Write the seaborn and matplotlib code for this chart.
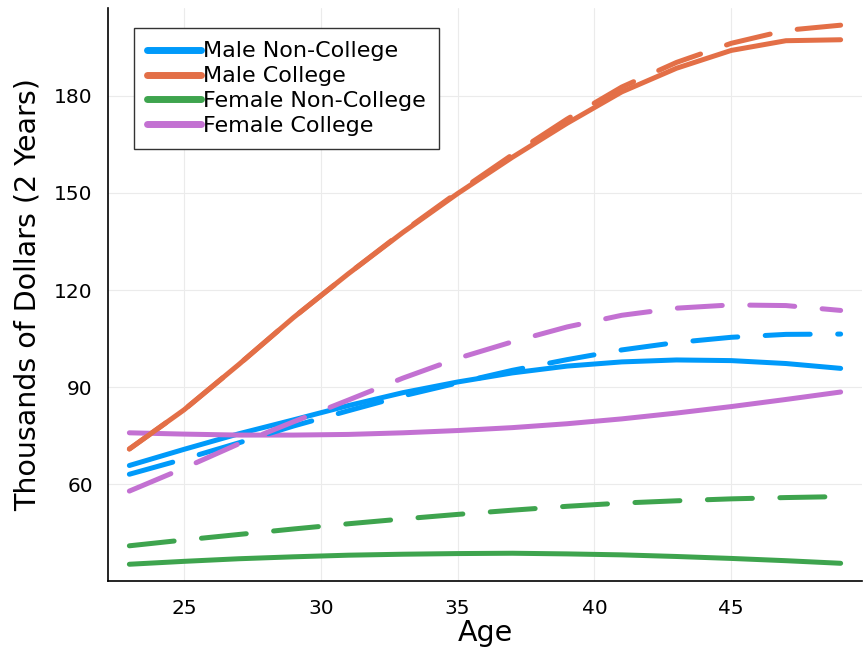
import matplotlib

matplotlib.use("Agg")
import matplotlib.pyplot as plt
import pandas as pd
import seaborn as sns
from matplotlib.lines import Line2D

AGES = [23, 25, 27, 29, 31, 33, 35, 37, 39, 41, 43, 45, 47, 49]

GROUPS = ["Male Non-College", "Male College", "Female Non-College", "Female College"]
COLORS = ["#009AFA", "#E36F47", "#3EA44E", "#C371D2"]

# solid lines
male_noncollege = [65.8, 70.8, 75.6, 79.9, 84.3, 88.3, 91.6, 94.4, 96.5, 97.8, 98.4, 98.2, 97.3, 95.8]
male_college = [70.9, 83.0, 97.0, 111.5, 125.0, 137.8, 149.8, 161.0, 171.5, 181.2, 188.5, 194.0, 197.0, 197.3]
female_noncollege = [35.3, 36.2, 37.0, 37.6, 38.1, 38.4, 38.6, 38.7, 38.5, 38.2, 37.7, 37.1, 36.4, 35.6]
female_college = [75.9, 75.5, 75.2, 75.2, 75.4, 75.9, 76.6, 77.5, 78.7, 80.2, 82.0, 84.0, 86.2, 88.5]

# dashed lines
male_noncollege_dash = [63.1, 67.8, 72.8, 78.0, 82.7, 87.3, 91.3, 95.2, 98.5, 101.5, 103.8, 105.4, 106.3, 106.4]
male_college_dash = [70.9, 83.0, 97.0, 111.5, 125.0, 138.0, 150.2, 161.8, 172.8, 182.7, 190.3, 196.2, 200.2, 201.8]
female_noncollege_dash = [41.0, 42.8, 44.5, 46.2, 47.8, 49.3, 50.7, 52.0, 53.2, 54.2, 54.9, 55.5, 55.9, 56.2]
female_college_dash = [57.9, 65.0, 72.5, 79.3, 86.0, 92.8, 98.9, 104.0, 108.6, 112.2, 114.4, 115.4, 115.2, 113.7]

solid = [male_noncollege, male_college, female_noncollege, female_college]
dashed = [male_noncollege_dash, male_college_dash, female_noncollege_dash, female_college_dash]

rows = []
for group, s_vals, d_vals in zip(GROUPS, solid, dashed):
    for age, s, d in zip(AGES, s_vals, d_vals):
        rows.append({"age": age, "value": s, "group": group, "kind": "solid"})
        rows.append({"age": age, "value": d, "group": group, "kind": "dashed"})
df = pd.DataFrame(rows)

sns.set_style("white")
plt.rcParams["font.family"] = ["DejaVu Sans"]

fig = plt.figure(figsize=(8.67, 6.52), dpi=100)
ax = fig.add_axes([0.1246, 0.1094, 0.8696, 0.8783])

LW = 3.6
for group, color in zip(GROUPS, COLORS):
    sub = df[(df["group"] == group) & (df["kind"] == "solid")]
    sns.lineplot(data=sub, x="age", y="value", color=color, linewidth=LW,
                 solid_capstyle="round", ax=ax, legend=False)
for group, color in zip(GROUPS, COLORS):
    sub = df[(df["group"] == group) & (df["kind"] == "dashed")]
    sns.lineplot(data=sub, x="age", y="value", color=color, linewidth=LW,
                 linestyle=(0, (9, 5.5)), dash_capstyle="round", ax=ax, legend=False)

ax.set_xlim(22.22, 49.78)
ax.set_ylim(30.23, 207.1)
ax.set_xticks([25, 30, 35, 40, 45])
ax.set_yticks([60, 90, 120, 150, 180])
ax.tick_params(direction="in", length=4, width=1, labelsize=14.5, colors="black")
ax.tick_params(axis="y", pad=11)
ax.tick_params(axis="x", pad=13)
ax.grid(True, color="#ebebeb", linewidth=0.8)
for side in ["top", "right"]:
    ax.spines[side].set_visible(False)
for side in ["left", "bottom"]:
    ax.spines[side].set_color("black")
    ax.spines[side].set_linewidth(1.2)

ax.set_xlabel("Age", fontsize=20.5, labelpad=1, color="black")
ax.set_ylabel("Thousands of Dollars (2 Years)", fontsize=20.5, labelpad=9, color="black")

handles = [Line2D([0], [0], color=c, linewidth=5, solid_capstyle="round") for c in COLORS]
leg = ax.legend(handles, GROUPS, loc="upper left", bbox_to_anchor=(0.0345, 0.965),
                borderaxespad=0, fontsize=16, handlelength=2.4, handletextpad=0.1,
                labelspacing=0.22, borderpad=0.6, fancybox=False, framealpha=1,
                edgecolor="#333333", labelcolor="black")
leg.get_frame().set_linewidth(1.0)

fig.savefig("out.png", dpi=100)
